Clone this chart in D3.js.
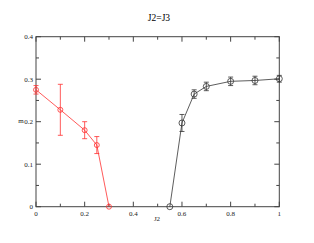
<!DOCTYPE html>
<html>
<head>
<meta charset="utf-8">
<script src="https://cdn.jsdelivr.net/npm/d3@7"></script>
<style>
  body { margin: 0; background: #fff; }
  svg { display: block; font-family: "Liberation Serif", "Times New Roman", serif; }
</style>
</head>
<body>
<svg id="chart"></svg>
<script>
// data
const redX = [0, 0.1, 0.2, 0.25, 0.3];
const redY = [0.275, 0.228, 0.18, 0.145, 0];
const redErr = [0.01, 0.06, 0.02, 0.02, 0];

const blackX = [0.55, 0.6, 0.65, 0.7, 0.8, 0.9, 1.0];
const blackY = [0, 0.197, 0.265, 0.283, 0.295, 0.297, 0.301];
const blackErr = [0, 0.02, 0.01, 0.01, 0.01, 0.01, 0.008];

const xTicks = [0, 0.2, 0.4, 0.6, 0.8, 1];
const yTicks = [0, 0.1, 0.2, 0.3, 0.4];

const width = 314, height = 243;
const svg = d3.select("#chart").attr("width", width).attr("height", height);

const x = d3.scaleLinear().domain([0, 1]).range([36, 279.3]);
const y = d3.scaleLinear().domain([0, 0.4]).range([206.7, 36.7]);

const axisColor = "#444";

// frame
svg.append("rect")
  .attr("x", x(0)).attr("y", y(0.4))
  .attr("width", x(1) - x(0)).attr("height", y(0) - y(0.4))
  .attr("fill", "none").attr("stroke", axisColor).attr("stroke-width", 1);

// ticks (inward, all four sides)
const g = svg.append("g").attr("stroke", axisColor).attr("stroke-width", 1);
d3.range(0, 1.0001, 0.1).forEach((v, i) => {
  const len = i % 2 === 0 ? 5 : 3;
  g.append("line").attr("x1", x(v)).attr("x2", x(v)).attr("y1", y(0)).attr("y2", y(0) - len);
  g.append("line").attr("x1", x(v)).attr("x2", x(v)).attr("y1", y(0.4)).attr("y2", y(0.4) + len);
});
d3.range(0, 0.4001, 0.05).forEach((v, i) => {
  const len = i % 2 === 0 ? 5 : 3;
  g.append("line").attr("y1", y(v)).attr("y2", y(v)).attr("x1", x(0)).attr("x2", x(0) + len);
  g.append("line").attr("y1", y(v)).attr("y2", y(v)).attr("x1", x(1)).attr("x2", x(1) - len);
});

// tick labels
svg.selectAll("text.xt").data(xTicks).enter().append("text")
  .attr("x", d => x(d)).attr("y", y(0) + 9)
  .attr("text-anchor", "middle").attr("font-size", 7).attr("fill", "#222")
  .text(d => d);
svg.selectAll("text.yt").data(yTicks).enter().append("text")
  .attr("x", x(0) - 3).attr("y", d => y(d) + 2.5)
  .attr("text-anchor", "end").attr("font-size", 7).attr("fill", "#222")
  .text(d => d);

// titles
svg.append("text").attr("x", 159).attr("y", 21).attr("text-anchor", "middle")
  .attr("font-size", 9.5).attr("fill", "#000").text("J2=J3");
svg.append("text").attr("x", 157).attr("y", 221).attr("text-anchor", "middle")
  .attr("font-size", 7).attr("fill", "#222").text("J2");
svg.append("text").attr("x", 21).attr("y", 123).attr("text-anchor", "middle")
  .attr("font-size", 7).attr("fill", "#222").text("m");

function drawSeries(xs, ys, errs, color, r) {
  const pts = xs.map((v, i) => ({ x: v, y: ys[i], e: errs[i] }));
  const line = d3.line().x(d => x(d.x)).y(d => y(d.y));
  svg.append("path").attr("d", line(pts)).attr("fill", "none")
    .attr("stroke", color).attr("stroke-width", 0.8);
  const eg = svg.append("g").attr("stroke", color).attr("stroke-width", 0.8);
  pts.filter(d => d.e > 0).forEach(d => {
    eg.append("line").attr("x1", x(d.x)).attr("x2", x(d.x)).attr("y1", y(d.y - d.e)).attr("y2", y(d.y + d.e));
    [d.y - d.e, d.y + d.e].forEach(v => {
      eg.append("line").attr("x1", x(d.x) - 2.5).attr("x2", x(d.x) + 2.5).attr("y1", y(v)).attr("y2", y(v));
    });
  });
  svg.append("g").selectAll("circle").data(pts).enter().append("circle")
    .attr("cx", d => x(d.x)).attr("cy", d => y(d.y)).attr("r", r)
    .attr("fill", "none").attr("stroke", color).attr("stroke-width", 0.8);
}

drawSeries(redX, redY, redErr, "#ff3030", 2.5);
drawSeries(blackX, blackY, blackErr, "#333", 3);
</script>
</body>
</html>
